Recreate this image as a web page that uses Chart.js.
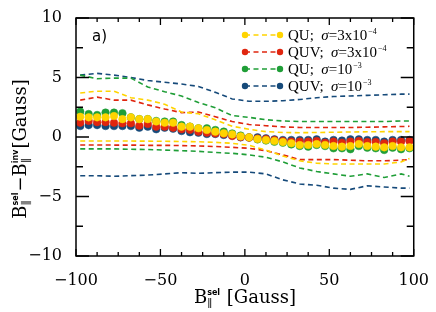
<!DOCTYPE html>
<html>
<head>
<meta charset="utf-8">
<script src="https://cdn.jsdelivr.net/npm/chart.js@4/dist/chart.umd.min.js"></script>
<style>
html,body{margin:0;padding:0;background:#fff}
#wrap{width:436px;height:312px;position:relative}
</style>
</head>
<body>
<div id="wrap"><canvas id="c"></canvas></div>
<script>
// B_sel positions of the dots (Gauss)
const fieldX = [-97.5,-92.5,-87.5,-82.5,-77.5,-72.5,-67.5,-62.5,-57.5,-52.5,
  -47.5,-42.5,-37.5,-32.5,-27.5,-22.5,-17.5,-12.5,-7.5,-2.5,
  2.5,7.5,12.5,17.5,22.5,27.5,32.5,37.5,42.5,47.5,
  52.5,57.5,62.5,67.5,72.5,77.5,82.5,87.5,92.5,97.5];

// mean B_sel - B_inv
const quLow = [1.7,1.65,1.65,1.65,1.76,1.5,1.65,1.5,1.5,1.3,1.2,1.2,0.87,0.87,0.73,0.59,0.45,0.31,0.22,0.05,
  -0.03,-0.17,-0.25,-0.34,-0.43,-0.53,-0.67,-0.67,-0.59,-0.67,-0.76,-0.81,-0.76,-0.59,-0.76,-0.81,-0.87,-0.76,-0.87,-0.87];
const quvLow = [1.2,1.35,1.25,1.25,1.2,1.15,1.15,0.95,1.1,0.87,0.87,0.78,0.65,0.6,0.45,0.36,0.3,0.25,0.08,0.0,
  -0.05,-0.12,-0.17,-0.25,-0.34,-0.39,-0.39,-0.39,-0.34,-0.48,-0.39,-0.48,-0.39,-0.34,-0.42,-0.42,-0.53,-0.39,-0.39,-0.34];
const quHigh = [2.13,1.93,1.85,2.05,2.05,2.0,1.65,1.5,1.5,1.35,1.3,1.3,1.0,0.87,0.73,0.73,0.59,0.45,0.3,0.12,
  -0.05,-0.2,-0.3,-0.4,-0.48,-0.62,-0.76,-0.81,-0.67,-0.76,-0.95,-0.95,-1.03,-0.76,-0.9,-0.95,-1.09,-0.9,-1.03,-0.95];
const quvHigh = [0.92,1.0,1.0,0.92,0.92,0.92,0.92,0.78,0.87,0.65,0.78,0.7,0.5,0.4,0.36,0.25,0.25,0.17,0.12,-0.03,
  -0.03,-0.03,-0.11,-0.2,-0.25,-0.25,-0.25,-0.25,-0.2,-0.39,-0.25,-0.3,-0.2,-0.2,-0.25,-0.25,-0.39,-0.25,-0.25,-0.25];

// spread (dashed) curves
const bandX = [-97.5,-87.5,-77.5,-67.5,-57.5,-47.5,-37.5,-27.5,-17.5,-7.5,2.5,12.5,22.5,32.5,42.5,52.5,62.5,72.5,82.5,92.5,97.5];
const quLowUp = [3.7,3.85,3.85,3.3,3.1,2.75,2.1,1.95,1.45,0.9,0.65,0.45,0.38,0.36,0.38,0.4,0.42,0.44,0.45,0.45,0.45];
const quLowDn = [-0.34,-0.34,-0.34,-0.34,-0.35,-0.36,-0.38,-0.4,-0.45,-0.53,-0.7,-1.1,-1.6,-2.0,-2.2,-2.27,-2.27,-2.27,-2.27,-2.1,-1.8];
const quvLowUp = [3.1,3.35,3.1,3.1,2.7,2.35,2.05,2.1,1.7,1.3,1.05,0.95,0.85,0.8,0.8,0.8,0.8,0.82,0.85,0.88,0.9];
const quvLowDn = [-0.67,-0.67,-0.68,-0.68,-0.7,-0.7,-0.72,-0.75,-0.8,-0.87,-0.95,-1.15,-1.5,-1.9,-1.9,-1.9,-1.95,-2.0,-2.0,-1.95,-1.9];
const quHighUp = [5.2,4.9,4.95,4.95,4.2,3.8,3.45,2.9,2.45,1.8,1.65,1.45,1.35,1.3,1.3,1.3,1.3,1.3,1.3,1.35,1.35];
const quHighDn = [-1.0,-1.0,-1.0,-1.03,-1.05,-1.1,-1.15,-1.2,-1.3,-1.37,-1.5,-1.7,-2.1,-2.6,-2.9,-3.1,-3.3,-3.1,-3.4,-3.1,-3.3];
const quvHighUp = [5.2,5.35,5.2,5.0,4.75,4.6,4.45,4.25,3.75,3.2,3.0,3.0,3.05,3.15,3.3,3.4,3.45,3.5,3.55,3.6,3.6];
const quvHighDn = [-3.25,-3.25,-3.3,-3.25,-3.2,-3.1,-3.0,-3.05,-3.0,-2.95,-2.95,-3.1,-3.6,-3.95,-4.05,-4.3,-4.4,-4.1,-4.2,-4.3,-4.3];

const legendNames = ['QU;', 'QUV;', 'QU;', 'QUV;'];
const legendSigma = [['3x10', '\u22124'], ['3x10', '\u22124'], ['10', '\u22123'], ['10', '\u22123']];

const YELLOW = '#ffd400', RED = '#e0260f', GREEN = '#1f9e37', BLUE = '#164a7a';
const legendColors = [YELLOW, RED, GREEN, BLUE];

const pts = (xs, ys) => xs.map((x, i) => ({x, y: ys[i]}));
const minus = s => String(s).replace('-', '\u2212');

function dots(data, color){
    return { data: pts(fieldX, data), showLine:false, pointRadius:3.8, pointHoverRadius:3.8,
        pointBackgroundColor:color, pointBorderColor:color, pointBorderWidth:0.5 };
}
function band(data, color){
    return { data: pts(bandX, data), showLine:true, pointRadius:0, borderColor:color,
        borderWidth:1.6, borderDash:[5,3.5], fill:false, tension:0 };
}

// draws base text with stacked sub/sup pieces
function richText(ctx, parts, x, y){
    const big = '18px "DejaVu Serif"', sub = '11px "DejaVu Serif"', sup = 'bold 8px "DejaVu Sans"';
    let w = 0;
    for (const p of parts) {
        if (p.t) { ctx.font = big; w += ctx.measureText(p.t).width; }
        else { ctx.font = sub; const a = ctx.measureText(p.sub).width; ctx.font = sup; const b = ctx.measureText(p.sup).width; w += Math.max(a, b) + 1; }
    }
    let cx = x - w/2;
    ctx.textAlign = 'left'; ctx.textBaseline = 'alphabetic';
    for (const p of parts) {
        if (p.t) { ctx.font = big; ctx.fillText(p.t, cx, y); cx += ctx.measureText(p.t).width; }
        else {
            ctx.font = sub; ctx.fillText(p.sub, cx, y + 4); const a = ctx.measureText(p.sub).width;
            ctx.font = sup; ctx.fillText(p.sup, cx, y - 8); const b = ctx.measureText(p.sup).width;
            cx += Math.max(a, b) + 1;
        }
    }
}

const decor = {
    id:'decor',
    afterDraw(chart){
        const {ctx, chartArea:a, scales:{x, y}} = chart;
        ctx.save();
        ctx.strokeStyle = '#000'; ctx.fillStyle = '#000';
        ctx.lineWidth = 1.5;
        ctx.strokeRect(a.left, a.top, a.right - a.left, a.bottom - a.top);
        ctx.lineWidth = 1.3;
        ctx.beginPath();
        for (let v = -100; v <= 100; v += 12.5) {
            const px = x.getPixelForValue(v), len = v % 50 === 0 ? 7 : 4;
            ctx.moveTo(px, a.bottom); ctx.lineTo(px, a.bottom - len);
            ctx.moveTo(px, a.top); ctx.lineTo(px, a.top + len);
        }
        for (let v = -10; v <= 10; v += 2.5) {
            const py = y.getPixelForValue(v), len = v % 5 === 0 ? 13 : 7;
            ctx.moveTo(a.left, py); ctx.lineTo(a.left + len, py);
            ctx.moveTo(a.right, py); ctx.lineTo(a.right - len, py);
        }
        ctx.stroke();

        // panel label
        ctx.font = '15px "DejaVu Sans"';
        ctx.textAlign = 'left'; ctx.textBaseline = 'alphabetic';
        ctx.fillText('a)', 92, 41);

        // legend
        for (let i = 0; i < 4; i++) {
            const ly = 35 + i * 17, c = legendColors[i];
            ctx.strokeStyle = c; ctx.fillStyle = c; ctx.lineWidth = 1.4;
            ctx.setLineDash([5, 3.5]);
            ctx.beginPath(); ctx.moveTo(245, ly); ctx.lineTo(280, ly); ctx.stroke();
            ctx.setLineDash([]);
            for (const dx of [245, 280]) { ctx.beginPath(); ctx.arc(dx, ly, 3.2, 0, Math.PI*2); ctx.fill(); }
            ctx.fillStyle = '#000';
            let tx = 288; const base = ly + 5;
            ctx.font = '15px "Liberation Serif"';
            ctx.fillText(legendNames[i], tx, base); tx += ctx.measureText(legendNames[i] + '  ').width;
            ctx.font = 'italic 15px "Liberation Serif"';
            ctx.fillText('\u03c3', tx, base); tx += ctx.measureText('\u03c3').width;
            ctx.font = '15px "Liberation Serif"';
            const s = '=' + legendSigma[i][0];
            ctx.fillText(s, tx, base); tx += ctx.measureText(s).width + 1;
            ctx.font = '8px "Liberation Serif"';
            ctx.fillText(legendSigma[i][1], tx, base - 6);
        }

        // axis titles
        ctx.fillStyle = '#000';
        richText(ctx, [{t:'B'}, {sub:'\u2225', sup:'sel'}, {t:' [Gauss]'}], 245, 303);
        ctx.save();
        ctx.translate(26, 149); ctx.rotate(-Math.PI/2);
        richText(ctx, [{t:'B'}, {sub:'\u2225', sup:'sel'}, {t:'\u2212B'}, {sub:'\u2225', sup:'inv'}, {t:'[Gauss]'}], 0, 0);
        ctx.restore();
        ctx.restore();
    }
};

new Chart(document.getElementById('c').getContext('2d'), {
    type:'scatter',
    data:{ datasets:[
        dots(quLow, YELLOW), dots(quvLow, RED), dots(quHigh, GREEN), dots(quvHigh, BLUE),
        band(quLowUp, YELLOW), band(quLowDn, YELLOW),
        band(quvLowUp, RED), band(quvLowDn, RED),
        band(quHighUp, GREEN), band(quHighDn, GREEN),
        band(quvHighUp, BLUE), band(quvHighDn, BLUE)
    ]},
    options:{
        animation:false, responsive:true, maintainAspectRatio:false,
        layout:{ padding:{ left:0, right:22, top:18, bottom:0 } },
        plugins:{ legend:{ display:false }, tooltip:{ enabled:false } },
        scales:{
            x:{ type:'linear', min:-100, max:100,
                grid:{ display:false }, border:{ display:false },
                ticks:{ stepSize:50, color:'#000', padding:7, maxRotation:0, autoSkip:false,
                    font:{ family:'DejaVu Serif', size:16 }, callback:v => minus(v) },
                afterFit:s => { s.height = 56; } },
            y:{ type:'linear', min:-10, max:10,
                grid:{ display:false }, border:{ display:false },
                ticks:{ stepSize:5, color:'#000', padding:6,
                    font:{ family:'DejaVu Serif', size:16 }, callback:v => minus(v) },
                afterFit:s => { s.width = 76; } }
        }
    },
    plugins:[decor]
});
</script>
</body>
</html>
